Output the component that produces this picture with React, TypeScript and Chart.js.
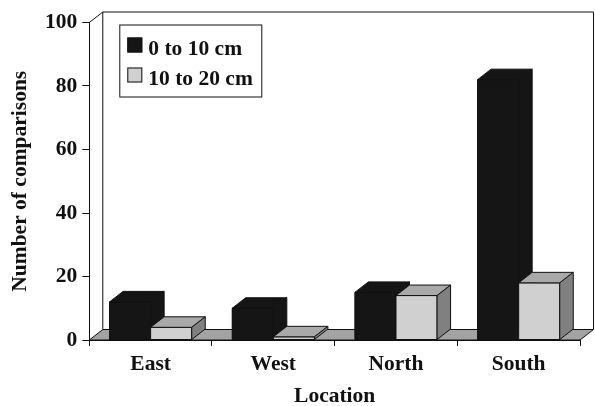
import React, { useEffect, useRef } from "react";
import { Chart, registerables } from "chart.js";

Chart.register(...registerables);

// Chart data
const locations = ["East", "West", "North", "South"];
const shallowCounts = [12, 10, 15, 82]; // 0 to 10 cm
const deepCounts = [4, 1, 14, 18]; // 10 to 20 cm
const seriesLabels = ["0 to 10 cm", "10 to 20 cm"];
const valueTicks = [0, 20, 40, 60, 80, 100];
const yAxisTitle = "Number of comparisons";
const xAxisTitle = "Location";

const FONT = "'Liberation Serif', 'Times New Roman', serif";
const FONT_SIZE = 21.5;
const INK = "#111111";

// Oblique offset used for the pseudo-3D depth of walls, floor and columns
const DEPTH_X = 13.5;
const DEPTH_Y = -10.5;

const faceColors = [
  { front: "#151515", top: "#151515", side: "#151515" },
  { front: "#d0d0d0", top: "#a9a9a9", side: "#808080" },
];
const floorColor = "#a3a3a3";

function poly(ctx: CanvasRenderingContext2D, pts: number[][], fill: string | null) {
  ctx.beginPath();
  ctx.moveTo(pts[0][0], pts[0][1]);
  for (let i = 1; i < pts.length; i++) ctx.lineTo(pts[i][0], pts[i][1]);
  ctx.closePath();
  if (fill) {
    ctx.fillStyle = fill;
    ctx.fill();
  }
  ctx.stroke();
}

const depthPlugin = {
  id: "depthBoxes",
  beforeDatasetsDraw(chart: any) {
    const { ctx, chartArea } = chart;
    const { left, right, top, bottom } = chartArea;
    ctx.save();
    ctx.strokeStyle = INK;
    ctx.lineWidth = 1;
    // back wall outline
    ctx.beginPath();
    ctx.moveTo(left, top);
    ctx.lineTo(left + DEPTH_X, top + DEPTH_Y);
    ctx.lineTo(right + DEPTH_X, top + DEPTH_Y);
    ctx.lineTo(right + DEPTH_X, bottom + DEPTH_Y);
    ctx.moveTo(left + DEPTH_X, top + DEPTH_Y);
    ctx.lineTo(left + DEPTH_X, bottom + DEPTH_Y);
    ctx.stroke();
    // floor
    poly(
      ctx,
      [
        [left, bottom],
        [right, bottom],
        [right + DEPTH_X, bottom + DEPTH_Y],
        [left + DEPTH_X, bottom + DEPTH_Y],
      ],
      floorColor
    );
    ctx.restore();
  },
  afterDatasetsDraw(chart: any) {
    const { ctx } = chart;
    ctx.save();
    ctx.strokeStyle = INK;
    ctx.lineWidth = 1;
    ctx.lineJoin = "miter";
    const metas = chart.data.datasets.map((_: any, d: number) => chart.getDatasetMeta(d));
    for (let i = 0; i < locations.length; i++) {
      metas.forEach((meta: any, d: number) => {
        const el = meta.data[i];
        if (!el) return;
        const { x, y, base, width } = el.getProps(["x", "y", "base", "width"], true);
        const l = x - width / 2;
        const r = x + width / 2;
        const c = faceColors[d];
        poly(ctx, [[l, y], [r, y], [r, base], [l, base]], c.front);
        poly(ctx, [[l, y], [l + DEPTH_X, y + DEPTH_Y], [r + DEPTH_X, y + DEPTH_Y], [r, y]], c.top);
        poly(ctx, [[r, y], [r + DEPTH_X, y + DEPTH_Y], [r + DEPTH_X, base + DEPTH_Y], [r, base]], c.side);
      });
    }
    ctx.restore();
  },
  afterDraw(chart: any) {
    const { ctx, chartArea } = chart;
    ctx.save();
    // vertical axis title
    ctx.fillStyle = INK;
    ctx.font = `bold ${FONT_SIZE}px ${FONT}`;
    ctx.textAlign = "center";
    ctx.textBaseline = "alphabetic";
    ctx.translate(25.5, (chartArea.top + chartArea.bottom) / 2);
    ctx.rotate(-Math.PI / 2);
    ctx.fillText(yAxisTitle, 0, 0);
    ctx.restore();

    // legend box inside the plot
    ctx.save();
    const bx = chartArea.left + 30;
    const by = chartArea.top + 2;
    ctx.fillStyle = "#ffffff";
    ctx.strokeStyle = INK;
    ctx.lineWidth = 1;
    ctx.fillRect(bx, by, 142, 72);
    ctx.strokeRect(bx + 0.5, by + 0.5, 142, 72);
    ctx.font = `bold ${FONT_SIZE}px ${FONT}`;
    ctx.textAlign = "left";
    ctx.textBaseline = "alphabetic";
    seriesLabels.forEach((label, k) => {
      const sy = by + 13 + k * 30;
      ctx.fillStyle = faceColors[k].front;
      ctx.fillRect(bx + 8, sy, 15, 15);
      ctx.strokeRect(bx + 8.5, sy + 0.5, 14, 14);
      ctx.fillStyle = INK;
      ctx.fillText(label, bx + 29, sy + 17);
    });
    ctx.restore();
  },
};

export default function App() {
  const canvasRef = useRef<HTMLCanvasElement | null>(null);

  useEffect(() => {
    const canvas = canvasRef.current;
    if (!canvas) return;
    const tickFont = { family: FONT, size: FONT_SIZE, weight: "bold" as const };
    const chart = new Chart(canvas, {
      type: "bar",
      data: {
        labels: locations,
        datasets: [
          { label: seriesLabels[0], data: shallowCounts, backgroundColor: faceColors[0].front, borderWidth: 0 },
          { label: seriesLabels[1], data: deepCounts, backgroundColor: faceColors[1].front, borderWidth: 0 },
        ],
      },
      options: {
        responsive: false,
        animation: false,
        devicePixelRatio: 1,
        layout: { padding: { top: 22.5, right: 15, left: 0, bottom: 0 } },
        datasets: { bar: { categoryPercentage: 0.67, barPercentage: 1 } },
        plugins: { legend: { display: false }, tooltip: { enabled: false } },
        scales: {
          x: {
            grid: { offset: true, drawOnChartArea: false, tickLength: 6, tickColor: INK, color: INK },
            border: { display: true, color: INK, width: 1 },
            ticks: { color: INK, font: tickFont, padding: 6 },
            title: {
              display: true,
              text: xAxisTitle,
              color: INK,
              font: tickFont,
              padding: { top: 0, bottom: -3 },
            },
            afterFit(scale: any) {
              scale.height = 66;
            },
          },
          y: {
            min: 0,
            max: 100,
            afterBuildTicks(scale: any) {
              scale.ticks = valueTicks.map((v) => ({ value: v }));
            },
            grid: { drawOnChartArea: false, tickLength: 7, tickColor: INK, color: INK },
            border: { display: true, color: INK, width: 1 },
            ticks: { color: INK, font: tickFont, padding: 5 },
            afterFit(scale: any) {
              scale.width = 89.3;
            },
          },
        },
      },
      plugins: [depthPlugin],
    });
    return () => chart.destroy();
  }, []);

  return (
    <div style={{ position: "fixed", left: 0, top: 0, width: 595, height: 406, background: "#fff" }}>
      <canvas ref={canvasRef} width={595} height={406} />
    </div>
  );
}
